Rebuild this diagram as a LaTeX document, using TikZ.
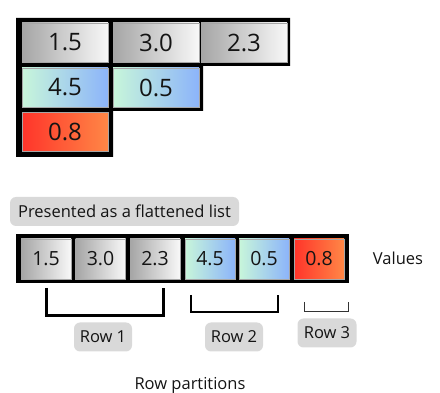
\documentclass[tikz,border=0pt]{standalone}
\usepackage{fontspec}
\setmainfont{Open Sans}
\definecolor{gL}{RGB}{165,165,165}
\definecolor{gR}{RGB}{248,248,248}
\definecolor{bL}{RGB}{200,246,218}
\definecolor{bR}{RGB}{140,180,250}
\definecolor{rL}{RGB}{255,52,42}
\definecolor{rR}{RGB}{255,135,70}
\definecolor{tagfill}{RGB}{217,217,217}
\definecolor{ink}{RGB}{20,20,20}
\begin{document}
\begin{tikzpicture}[x=1pt,y=-1pt,
  cell/.style={minimum width=86pt, minimum height=39pt, inner sep=0pt, draw=black!35, line width=0.4pt, text=ink, font=\fontsize{24}{24}\selectfont},
  scell/.style={cell, minimum width=50pt, minimum height=40pt, font=\fontsize{19.5}{19.5}\selectfont},
  grayg/.style={left color=gL, right color=gR},
  blueg/.style={left color=bL, right color=bR},
  redg/.style={left color=rL, right color=rR},
  tag/.style={fill=tagfill, rounded corners=6pt, text=ink, font=\fontsize{16.5}{16.5}\selectfont, inner sep=0pt},
  lbl/.style={text=ink, font=\fontsize{16.5}{16.5}\selectfont, inner sep=0pt},
  bracket/.style={draw=black, line cap=butt, line join=miter}
]
\useasboundingbox (0,0) rectangle (440,393);
% top grid backing
\fill[black] (16,18) -- (290,18) -- (290,66) -- (203,66) -- (203,111) -- (113,111) -- (113,157) -- (16,157) -- cycle;
\node[cell,grayg] (t11) at (65,42.5) {1.5};
\node[cell,grayg] (t12) at (156,42.5) {3.0};
\node[cell,grayg] (t13) at (244,42.5) {2.3};
\node[cell,blueg] (t21) at (65,87.5) {4.5};
\node[cell,blueg] (t22) at (156,87.5) {0.5};
\node[cell,redg]  (t31) at (65,132) {0.8};
% flattened list
\node[tag, minimum width=229pt, minimum height=29pt] (flat) at (124.5,211.5) {Presented as a flattened list};
\fill[black] (16,234) rectangle (349,283);
\node[scell,grayg] (v1) at (46,259) {1.5};
\node[scell,grayg] (v2) at (100.5,259) {3.0};
\node[scell,grayg] (v3) at (155,259) {2.3};
\node[scell,blueg] (v4) at (210,259) {4.5};
\node[scell,blueg] (v5) at (264,259) {0.5};
\node[scell,redg]  (v6) at (319,259) {0.8};
\node[lbl] (values) at (398,258) {Values};
% brackets
\coordinate (b1a) at (46,288); \coordinate (b1b) at (163,288);
\coordinate (b2a) at (191,295); \coordinate (b2b) at (278,295);
\coordinate (b3a) at (304.5,302); \coordinate (b3b) at (348,302);
\draw[bracket, line width=3pt] (b1a) -- ++(0,28) -| (b1b);
\draw[bracket, line width=2pt] (b2a) -- ++(0,17) -| (b2b);
\draw[bracket, line width=1pt, draw=black!80] (b3a) -- ++(0,9.5) -| (b3b);
\node[tag, minimum width=58pt, minimum height=29pt] (r1) at (103,337) {Row 1};
\node[tag, minimum width=58pt, minimum height=29pt] (r2) at (234,337) {Row 2};
\node[tag, minimum width=59pt, minimum height=29pt] (r3) at (327,333) {Row 3};
\node[lbl] (parts) at (190,385) {Row partitions};
\end{tikzpicture}
\end{document}
